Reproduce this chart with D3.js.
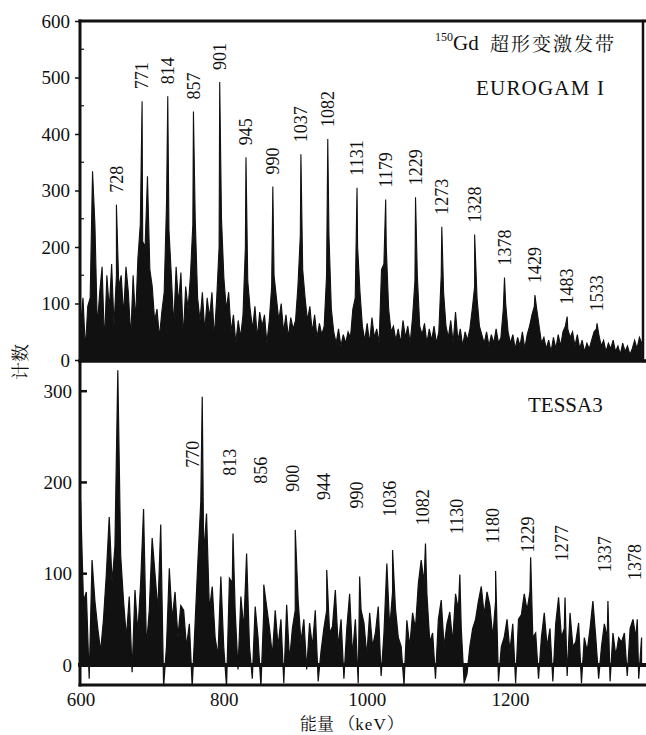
<!DOCTYPE html>
<html>
<head>
<meta charset="utf-8">
<script src="https://cdn.jsdelivr.net/npm/d3@7"></script>
<style>
  body { margin: 0; background: #fff; }
  svg { display: block; }
</style>
</head>
<body>
<svg id="chart" width="646" height="735"></svg>
<script>
// EUROGAM I: counts on a 4 keV grid starting at 668 keV
const topStart = 668;
const topStep = 4;
const topCounts = [
  60, 110, 20, 95, 110, 334, 240, 60, 120, 165,
  30, 150, 90, 170, 60, 150, 130, 150, 80, 165,
  120, 40, 150, 70, 180, 240, 210, 200, 325, 160,
  130, 70, 90, 40, 85, 120, 280, 230, 150, 60,
  165, 100, 155, 40, 130, 90, 150, 240, 250, 110,
  70, 120, 50, 110, 75, 120, 40, 110, 200, 250,
  145, 90, 120, 50, 80, 30, 70, 40, 80, 200,
  140, 90, 55, 95, 40, 85, 60, 80, 30, 70,
  130, 150, 110, 70, 100, 50, 80, 40, 75, 55,
  70, 130, 220, 160, 110, 70, 95, 50, 80, 40,
  65, 45, 60, 150, 220, 90, 50, 30, 55, 25,
  45, 30, 50, 40, 90, 110, 200, 120, 60, 35,
  65, 30, 75, 40, 55, 30, 160, 170, 200, 90,
  50, 60, 35, 55, 30, 70, 40, 60, 30, 75,
  140, 150, 60, 45, 65, 30, 55, 35, 60, 30,
  50, 150, 120, 60, 40, 70, 30, 85, 35, 55,
  25, 50, 35, 55, 90, 130, 110, 60, 45, 30,
  50, 25, 45, 30, 55, 30, 40, 90, 100, 50,
  30, 45, 20, 40, 25, 50, 20, 45, 60, 80,
  95, 90, 60, 30, 40, 20, 35, 15, 40, 20,
  45, 25, 50, 60, 55, 40, 50, 25, 45, 20,
  35, 15, 30, 20, 35, 50, 55, 45, 25, 35,
  15, 30, 20, 35, 15, 25, 10, 30, 15, 25,
  10, 20, 35, 20, 40, 30
];
// labelled superdeformed band lines (keV) and their peak counts
const topLineKeV = [728, 771, 814, 857, 901, 945, 990, 1037, 1082, 1131, 1179, 1229, 1273, 1328, 1378, 1429, 1483, 1533];
const topLineCounts = [275, 458, 467, 440, 492, 359, 307, 364, 391, 305, 284, 288, 236, 222, 146, 115, 77, 65];

// TESSA3: counts on a 4 keV grid starting at 600 keV
const botStart = 600;
const botStep = 4;
const botCounts = [
  180, 70, 80, -15, 115, 70, 40, 15, 50, 100,
  162, 90, 130, 323, 120, 70, 30, 75, -8, 82,
  35, 91, 171, 20, 60, 139, 100, 60, 154, -24,
  20, 106, 50, 80, 30, 65, 60, 20, 45, -24,
  45, 115, 179, 120, 166, 60, 86, 30, 10, 97,
  20, -24, 95, 90, 60, -5, 75, 40, 122, 20,
  -15, 64, 30, -24, 60, 64, 40, 10, 60, 20,
  50, -20, 66, 5, 40, 60, 71, 25, 50, -5,
  46, 20, 60, -18, 15, 40, 60, 35, 42, 82,
  20, 50, -15, 40, 78, 10, 50, -20, 60, 46,
  10, 57, 20, 35, 64, -12, 35, 111, 40, 80,
  62, 30, 20, -22, 49, 20, 57, 40, 89, 115,
  90, 78, 25, 35, -15, 50, 71, 20, 45, 58,
  25, 78, 60, 40, -20, -10, 20, 40, 50, 70,
  86, 55, 80, 65, 30, 70, -18, 20, 30, 50,
  15, 45, -20, 50, 55, 78, 60, 80, 30, 35,
  -15, 30, 57, 20, 40, -18, 45, 74, 30, 40,
  -12, 57, 20, 25, 46, -20, 30, 15, 40, 70,
  30, -15, 20, 45, 30, -18, 35, 10, 30, 25,
  35, -12, 40, 50, 30, -15, 30
];
const botLineKeV = [770, 813, 856, 900, 944, 990, 1036, 1082, 1130, 1180, 1229, 1277, 1337, 1378];
const botLineCounts = [294, 144, 88, 148, 104, 97, 126, 133, 99, 103, 118, 74, 70, 50];

const topYTicks = [0, 100, 200, 300, 400, 500, 600];
const topYMinor = [50, 150, 250, 350, 450, 550];
const botYTicks = [0, 100, 200, 300];
const botXTicks = [600, 800, 1000, 1200];

const svg = d3.select("#chart");
const ink = "#111";
const SERIF = '"Liberation Serif", "Times New Roman", serif';
const SONG = '"Noto Serif CJK SC", "Noto Sans CJK SC", serif';

const left = 80, right = 643;
const xTop = d3.scaleLinear().domain([667, 1610]).range([left, right]);
const yTop = d3.scaleLinear().domain([0, 600]).range([360, 21]);
const xBot = d3.scaleLinear().domain([600, 1386]).range([80.6, right]);
const yBot = d3.scaleLinear().domain([-22, 332]).range([685, 362]);

function spectrum(start, step, counts, lineKeV, lineCounts) {
  const pts = counts.map((c, i) => ({ e: start + i * step, c }));
  lineKeV.forEach((e, i) => pts.push({ e, c: lineCounts[i] }));
  return pts.sort((a, b) => a.e - b.e);
}

const defs = svg.append("defs");
defs.append("clipPath").attr("id", "clipTop").append("rect")
  .attr("x", left).attr("y", 21).attr("width", right - left).attr("height", 339);
defs.append("clipPath").attr("id", "clipBot").append("rect")
  .attr("x", left).attr("y", 362).attr("width", right - left + 2).attr("height", 323);

const topData = spectrum(topStart, topStep, topCounts, topLineKeV, topLineCounts);
const botData = spectrum(botStart, botStep, botCounts, botLineKeV, botLineCounts);

// EUROGAM I spectrum: filled from zero
svg.append("path")
  .datum(topData)
  .attr("clip-path", "url(#clipTop)")
  .attr("fill", ink).attr("stroke", ink).attr("stroke-width", 1.1)
  .attr("d", d3.area().x(d => xTop(d.e)).y0(yTop(0)).y1(d => yTop(d.c)));

// TESSA3 spectrum: filled about the zero line
svg.append("path")
  .datum(botData)
  .attr("clip-path", "url(#clipBot)")
  .attr("fill", ink).attr("stroke", ink).attr("stroke-width", 1.2)
  .attr("d", d3.area().x(d => xBot(d.e)).y0(yBot(0)).y1(d => yBot(d.c)));

// frame lines
const frame = svg.append("g").attr("stroke", ink).attr("stroke-linecap", "square");
frame.append("line").attr("x1", left).attr("x2", left).attr("y1", 21).attr("y2", 685).attr("stroke-width", 3);
frame.append("line").attr("x1", left).attr("x2", 645).attr("y1", 21).attr("y2", 21).attr("stroke-width", 3);
frame.append("line").attr("x1", right).attr("x2", right).attr("y1", 21).attr("y2", 361).attr("stroke-width", 2.5);
frame.append("line").attr("x1", left).attr("x2", 645).attr("y1", 361).attr("y2", 361).attr("stroke-width", 3.5);
frame.append("line").attr("x1", left).attr("x2", 645).attr("y1", yBot(0)).attr("y2", yBot(0)).attr("stroke-width", 4);
frame.append("line").attr("x1", left).attr("x2", 645).attr("y1", 685).attr("y2", 685).attr("stroke-width", 3);

function styleTicks(g) {
  g.select(".domain").remove();
  g.selectAll(".tick text")
    .style("font-family", SERIF).style("font-size", "19px").attr("fill", ink);
}

// top y axis
const gTop = svg.append("g").attr("transform", `translate(${left},0)`)
  .call(d3.axisLeft(yTop).tickValues(topYTicks).tickSize(5).tickPadding(5));
styleTicks(gTop);
gTop.selectAll(".tick line").attr("stroke", ink).attr("stroke-width", 1.5);
svg.append("g").selectAll("line").data(topYMinor).join("line")
  .attr("x1", left).attr("x2", left + 4)
  .attr("y1", d => yTop(d)).attr("y2", d => yTop(d))
  .attr("stroke", ink).attr("stroke-width", 1.2);

// bottom y axis (ticks point inward)
const gBot = svg.append("g").attr("transform", `translate(${left},0)`)
  .call(d3.axisLeft(yBot).tickValues(botYTicks).tickSize(0).tickPadding(8));
styleTicks(gBot);
svg.append("g").selectAll("line").data(botYTicks.filter(d => d > 0)).join("line")
  .attr("x1", left).attr("x2", left + 7)
  .attr("y1", d => yBot(d)).attr("y2", d => yBot(d))
  .attr("stroke", ink).attr("stroke-width", 2.5);

// bottom x axis
const gX = svg.append("g").attr("transform", "translate(0,685)")
  .call(d3.axisBottom(xBot).tickValues(botXTicks).tickFormat(d3.format("d")).tickSize(0).tickPadding(8));
styleTicks(gX);

// line energy labels, top panel: just above each peak
svg.append("g").selectAll("text").data(topLineKeV).join("text")
  .attr("transform", (d, i) => `translate(${xTop(d)},${yTop(topLineCounts[i]) - 12}) rotate(-90)`)
  .attr("dy", "0.35em")
  .style("font-family", SERIF).style("font-size", "18px").attr("fill", ink)
  .text(d => d);

// line energy labels, bottom panel: along a descending row
function botLabelY(e) { return yBot(216 - 0.202 * (e - 770)); }
svg.append("g").selectAll("text").data(botLineKeV).join("text")
  .attr("transform", (d, i) => {
    const peakTop = yBot(botLineCounts[i]);
    const shift = peakTop < botLabelY(d) ? -10 : -3;
    return `translate(${xBot(d) + shift},${botLabelY(d)}) rotate(-90)`;
  })
  .attr("dy", "0.35em")
  .style("font-family", SERIF).style("font-size", "18px").attr("fill", ink)
  .text(d => d);

// panel titles
svg.append("text").attr("x", 435).attr("y", 41)
  .style("font-family", SERIF).style("font-size", "12px").attr("fill", ink).text("150");
svg.append("text").attr("x", 453).attr("y", 50)
  .style("font-family", SERIF).style("font-size", "21px").attr("fill", ink).text("Gd");
svg.append("text").attr("x", 490).attr("y", 51)
  .style("font-family", SONG).style("font-size", "19px").style("letter-spacing", "2px").attr("fill", ink)
  .text("超形变激发带");
svg.append("text").attr("x", 476).attr("y", 95)
  .style("font-family", SERIF).style("font-size", "21px").style("letter-spacing", "1.2px").attr("fill", ink)
  .text("EUROGAM I");
svg.append("text").attr("x", 528).attr("y", 412)
  .style("font-family", SERIF).style("font-size", "21px").attr("fill", ink)
  .text("TESSA3");

// axis titles
const xt = svg.append("text").attr("x", 300).attr("y", 730).attr("fill", ink).style("font-size", "17px");
xt.append("tspan").style("font-family", SONG).text("能量 （");
xt.append("tspan").style("font-family", SERIF).style("letter-spacing", "1px").text("keV");
xt.append("tspan").style("font-family", SONG).text("）");

svg.append("text")
  .attr("transform", "translate(21,362) rotate(-90)")
  .attr("dy", "0.35em").attr("text-anchor", "middle")
  .style("font-family", SONG).style("font-size", "18px").attr("fill", ink)
  .text("计数");
</script>
</body>
</html>
